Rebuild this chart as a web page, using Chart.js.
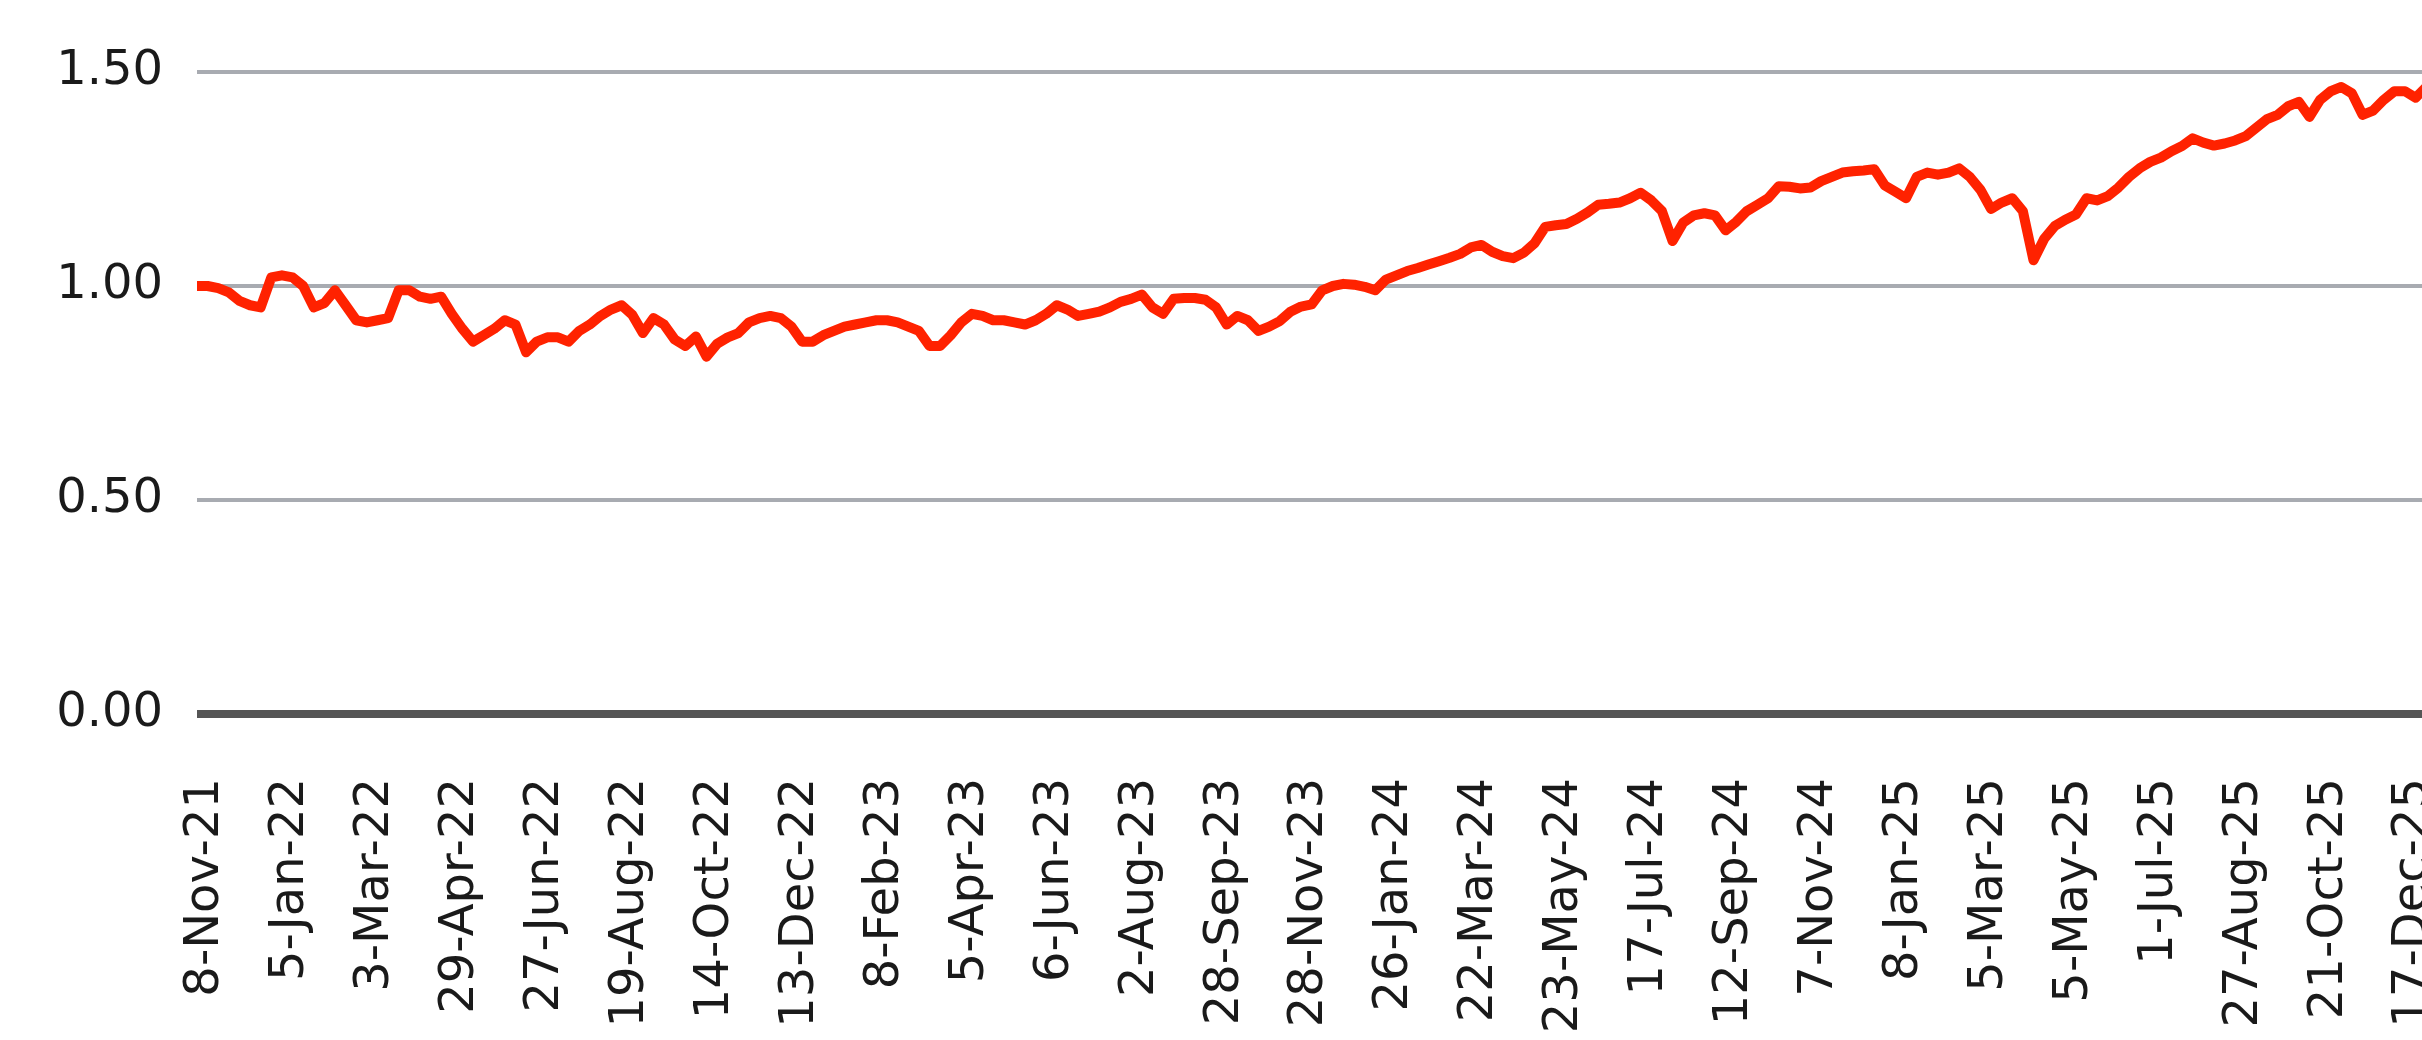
<!DOCTYPE html>
<html>
<head>
<meta charset="utf-8">
<script src="https://cdn.jsdelivr.net/npm/chart.js@4.4.1/dist/chart.umd.min.js"></script>
<style>
  html, body { margin: 0; padding: 0; background: #fff; overflow: hidden; }
  #wrap { width: 2422px; height: 1040px; position: relative; }
</style>
</head>
<body>
<div id="wrap"><canvas id="chart"></canvas></div>
<script>
// x labels, one every 40 trading days
const tickLabels = [
  "8-Nov-21", "5-Jan-22", "3-Mar-22", "29-Apr-22", "27-Jun-22", "19-Aug-22", "14-Oct-22",
  "13-Dec-22", "8-Feb-23", "5-Apr-23", "6-Jun-23", "2-Aug-23", "28-Sep-23", "28-Nov-23",
  "26-Jan-24", "22-Mar-24", "23-May-24", "17-Jul-24", "12-Sep-24", "7-Nov-24", "8-Jan-25",
  "5-Mar-25", "5-May-25", "1-Jul-25", "27-Aug-25", "21-Oct-25", "17-Dec-25"
];
const labelEvery = 40; // trading days between labels
const dayStep = 5;     // trading days between readings (weekly)
const lastDay = 1048;  // where the picture is cut on the right

// weekly readings of the index (start = 1.00)
const values = [
  1.00, 1.00, 0.995, 0.985, 0.965, 0.955, 0.95, 1.02, 1.025, 1.02,
  1.00, 0.95, 0.96, 0.99, 0.955, 0.92, 0.915, 0.92, 0.925, 0.99,
  0.99, 0.975, 0.97, 0.975, 0.935, 0.90, 0.87, 0.885, 0.90, 0.92,
  0.91, 0.845, 0.87, 0.88, 0.88, 0.87, 0.895, 0.91, 0.93, 0.945,
  0.955,
  0.933, 0.89, 0.925, 0.91, 0.875, 0.86, 0.882, 0.835, 0.865, 0.88,
  0.89, 0.915, 0.925, 0.93, 0.925, 0.905, 0.87, 0.87, 0.885, 0.895,
  0.905, 0.91, 0.915, 0.92, 0.92, 0.915, 0.905, 0.895, 0.86, 0.86,
  0.885, 0.915, 0.935, 0.93, 0.92, 0.92, 0.915, 0.91, 0.92, 0.935,
  0.955, 0.945,
  0.93, 0.935, 0.94, 0.95, 0.963, 0.97, 0.98, 0.95, 0.935, 0.97,
  0.972, 0.972, 0.968, 0.95, 0.91, 0.93, 0.92, 0.895, 0.905, 0.918,
  0.94, 0.952, 0.957, 0.99, 1.0, 1.005, 1.003, 0.998, 0.99, 1.015,
  1.025, 1.035, 1.042, 1.05, 1.058, 1.066, 1.075, 1.09, 1.096, 1.08,
  1.07, 1.065, 1.078, 1.10, 1.138, 1.142, 1.145, 1.157, 1.172, 1.19,
  1.192, 1.195, 1.205, 1.218, 1.20, 1.175, 1.105, 1.148, 1.165, 1.17,
  1.165, 1.13, 1.15, 1.175, 1.19, 1.205, 1.233, 1.232, 1.228, 1.23,
  1.245, 1.255, 1.265, 1.268, 1.27, 1.273, 1.235, 1.22, 1.205, 1.255,
  1.265,
  1.26, 1.265, 1.275, 1.255, 1.225, 1.18, 1.195, 1.205, 1.175, 1.06,
  1.11, 1.14, 1.155, 1.167, 1.205, 1.2, 1.21, 1.23, 1.255, 1.275,
  1.29, 1.30, 1.315, 1.327, 1.345, 1.335, 1.328, 1.333, 1.34, 1.35,
  1.37, 1.39, 1.40, 1.42, 1.43, 1.395, 1.435, 1.455, 1.465, 1.45,
  1.40, 1.41, 1.435, 1.455, 1.455, 1.44, 1.465
];

const yTicks = [0, 0.5, 1.0, 1.5];

const font = { family: "'DejaVu Sans', Verdana, sans-serif", size: 48 };

const chart = new Chart(document.getElementById("chart"), {
  type: "line",
  data: {
    datasets: [{
      data: values.map((v, i) => ({ x: i * dayStep, y: v })),
      borderColor: "#ff2200",
      borderWidth: 10,
      pointRadius: 0,
      tension: 0,
      borderJoinStyle: "round",
    }],
  },
  options: {
    responsive: true,
    maintainAspectRatio: false,
    animation: false,
    devicePixelRatio: 1,
    layout: { padding: { top: 72, left: 0, right: 0, bottom: 0 } },
    plugins: { legend: { display: false }, tooltip: { enabled: false } },
    scales: {
      x: {
        type: "linear",
        min: 0,
        max: lastDay,
        grid: { display: false, drawTicks: false },
        border: { display: false },
        afterBuildTicks: (s) => {
          s.ticks = tickLabels.map((_, i) => ({ value: i * labelEvery }));
        },
        afterFit: (s) => {
          s.height = 326;
          s.paddingLeft = 0;
          s.paddingRight = 0;
        },
        ticks: {
          autoSkip: false,
          minRotation: 90,
          maxRotation: 90,
          padding: 64,
          labelOffset: 9,
          color: "#1a1a1a",
          font: font,
          callback: (v) => tickLabels[Math.round(v / labelEvery)] ?? "",
        },
      },
      y: {
        min: 0,
        max: 1.5,
        afterBuildTicks: (s) => {
          s.ticks = yTicks.map((v) => ({ value: v }));
        },
        afterFit: (s) => { s.width = 197; },
        grid: {
          drawTicks: false,
          color: (ctx) => (ctx.tick && ctx.tick.value === 0 ? "#555555" : "#a8abb1"),
          lineWidth: (ctx) => (ctx.tick && ctx.tick.value === 0 ? 8 : 4),
        },
        border: { display: false },
        ticks: {
          padding: 34,
          color: "#1a1a1a",
          font: font,
          callback: (v) => Number(v).toFixed(2),
        },
      },
    },
  },
});
</script>
</body>
</html>
